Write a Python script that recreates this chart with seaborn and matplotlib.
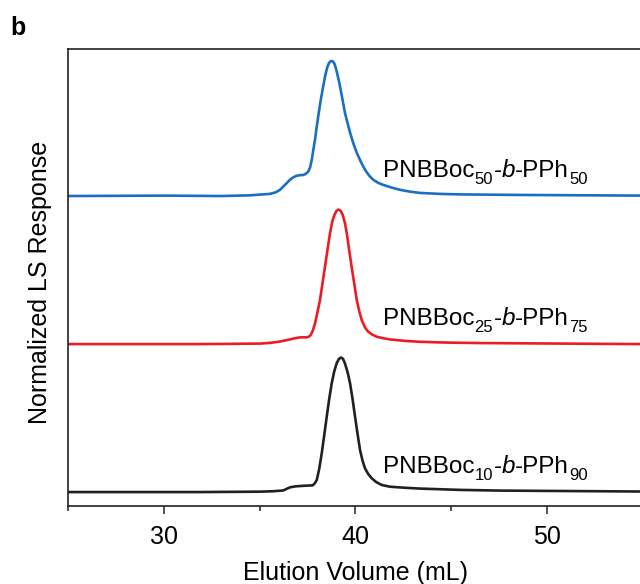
import numpy as np
import pandas as pd
import matplotlib
matplotlib.use("Agg")
import matplotlib.pyplot as plt
from matplotlib.ticker import MultipleLocator
import seaborn as sns

# ---- data (elution volume mL, normalized LS response) ----
blue_x = [25.0, 30.0, 33.0, 34.50, 35.55, 35.85, 36.07, 36.33, 36.59, 36.77, 36.94, 37.12,
          37.29, 37.42, 37.55, 37.64, 37.73, 37.81, 37.90, 37.98, 38.07, 38.20, 38.33,
          38.44, 38.54, 38.62, 38.70, 38.77, 38.84, 38.92, 38.99, 39.10, 39.20, 39.33,
          39.46, 39.60, 39.73, 39.90, 40.08, 40.30, 40.51, 40.72, 40.94, 41.20, 41.46,
          41.90, 42.34, 42.85, 43.38, 44.40, 45.47, 48.60, 55.0]
blue_y = [-0.008, -0.005, -0.008, -0.003, 0.008, 0.020, 0.038, 0.075, 0.113, 0.132, 0.143,
          0.148, 0.149, 0.158, 0.175, 0.205, 0.263, 0.335, 0.414, 0.500, 0.589, 0.710,
          0.814, 0.895, 0.953, 0.982, 0.997, 1.000, 0.995, 0.977, 0.945, 0.880, 0.814,
          0.715, 0.614, 0.535, 0.464, 0.385, 0.314, 0.245, 0.188, 0.145, 0.113, 0.090,
          0.075, 0.055, 0.038, 0.025, 0.015, 0.008, 0.004, 0.0, -0.005]

red_x = [25.0, 31.89, 35.03, 35.60, 36.07, 36.59, 36.85, 37.11, 37.30, 37.46, 37.58, 37.67,
         37.78, 37.90, 38.03, 38.16, 38.29, 38.42, 38.55, 38.68, 38.80, 38.91, 39.02,
         39.12, 39.24, 39.35, 39.46, 39.56, 39.68, 39.81, 39.95, 40.08, 40.21, 40.34,
         40.51, 40.68, 40.90, 41.12, 41.45, 41.81, 42.60, 43.38, 44.90, 46.51, 55.0]
red_y = [-0.004, -0.004, 0.0, 0.006, 0.015, 0.031, 0.040, 0.046, 0.047, 0.046, 0.052, 0.063,
         0.095, 0.151, 0.235, 0.325, 0.450, 0.573, 0.700, 0.822, 0.910, 0.959, 0.990,
         1.000, 0.990, 0.959, 0.900, 0.822, 0.700, 0.573, 0.445, 0.325, 0.240, 0.175,
         0.120, 0.088, 0.066, 0.051, 0.040, 0.031, 0.020, 0.013, 0.007, 0.004, -0.004]

black_x = [25.0, 31.89, 35.03, 35.70, 36.24, 36.45, 36.59, 36.85, 37.11, 37.45, 37.78, 37.88,
           37.99, 38.12, 38.25, 38.38, 38.51, 38.64, 38.77, 38.90, 39.03, 39.15, 39.26,
           39.36, 39.46, 39.60, 39.73, 39.86, 39.99, 40.12, 40.25, 40.38, 40.51, 40.68,
           40.86, 41.10, 41.38, 41.81, 42.60, 43.38, 45.50, 47.56, 55.0]
black_y = [-0.004, -0.004, -0.001, 0.002, 0.008, 0.022, 0.031, 0.038, 0.041, 0.044, 0.046,
           0.060, 0.086, 0.170, 0.285, 0.420, 0.558, 0.690, 0.807, 0.895, 0.957, 0.990,
           1.000, 0.990, 0.957, 0.890, 0.807, 0.690, 0.558, 0.430, 0.310, 0.230, 0.173,
           0.130, 0.099, 0.070, 0.049, 0.036, 0.028, 0.022, 0.012, 0.007, 0.0]

offsets = [2.213, 1.104, 0.0]
label_parts = [
    [("PNBBoc", "n"), ("50", "s"), ("-", "n"), ("b", "i"), ("-PPh", "n"), ("50", "s")],
    [("PNBBoc", "n"), ("25", "s"), ("-", "n"), ("b", "i"), ("-PPh", "n"), ("75", "s")],
    [("PNBBoc", "n"), ("10", "s"), ("-", "n"), ("b", "i"), ("-PPh", "n"), ("90", "s")],
]
colors = ["#1a6fc1", "#ec1c24", "#231f20"]
label_x = [41.45, 41.45, 41.45]
label_y = [2.347, 1.243, 0.138]
xticks = [30, 40, 50]

sns.set_theme(style="white")
plt.rcParams["font.family"] = ["Liberation Sans", "DejaVu Sans"]
plt.rcParams["text.color"] = "black"
plt.rcParams["axes.labelcolor"] = "black"
plt.rcParams["xtick.color"] = "black"
plt.rcParams["xtick.labelcolor"] = "black"

fig = plt.figure(figsize=(6.4, 5.84), dpi=100)
ax = fig.add_axes([68 / 640, 1 - 506 / 584, 574.5 / 640, 457 / 584])

series = [(blue_x, blue_y), (red_x, red_y), (black_x, black_y)]
for (xs, ys), off, col in zip(series, offsets, colors):
    df = pd.DataFrame({"x": xs, "y": np.array(ys) + off})
    sns.lineplot(data=df, x="x", y="y", ax=ax, color=col, linewidth=1.9,
                 sort=False, estimator=None)

ax.set_xlim(25, 55)
ax.set_ylim(-0.108, 3.302)

# labels built piece by piece so that subscripts sit low and small
renderer = fig.canvas.get_renderer()
for parts, lx, ly in zip(label_parts, label_x, label_y):
    dx = 0.0
    for txt, kind in parts:
        size = 17.5 if kind != "s" else 12
        dy = 0 if kind != "s" else -7
        style = "italic" if kind == "i" else "normal"
        t = ax.annotate(txt, xy=(lx, ly), xytext=(dx, dy), textcoords="offset pixels",
                        fontsize=size, fontstyle=style, va="baseline", ha="left",
                        color="black")
        bb = t.get_window_extent(renderer=renderer)
        dx += bb.width + (0.5 if kind == "s" else 0)

ax.set_xticks(xticks)
ax.xaxis.set_minor_locator(MultipleLocator(5))
ax.set_yticks([])
ax.tick_params(axis="x", which="major", direction="out", length=6, width=1.1,
               labelsize=18, pad=8, bottom=True, color="#222222")
ax.tick_params(axis="x", which="minor", direction="out", length=3.3, width=1.1,
               bottom=True, color="#222222")
for s in ["left", "top", "bottom", "right"]:
    ax.spines[s].set_visible(True)
    ax.spines[s].set_color("#222222")
    ax.spines[s].set_linewidth(1.2)

ax.set_xlabel("Elution Volume (mL)", fontsize=18, labelpad=8)
ax.set_ylabel("Normalized LS Response", fontsize=18)
ax.yaxis.set_label_coords(-0.028, 0.489)

fig.text(10 / 640, 1 - 35 / 584, "b", fontsize=18, fontweight="bold", va="baseline")

fig.savefig("out.png", dpi=100)
